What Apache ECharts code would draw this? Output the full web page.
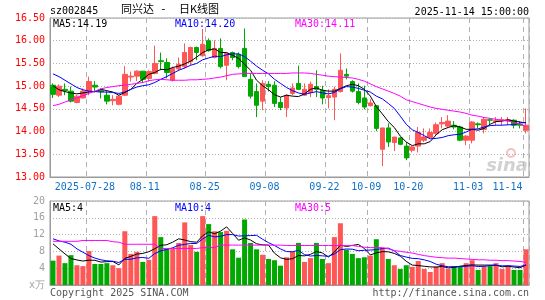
<!DOCTYPE html>
<html>
<head>
<meta charset="utf-8">
<script src="https://cdn.jsdelivr.net/npm/echarts@6/dist/echarts.min.js"></script>
<style>
html, body { margin: 0; padding: 0; background: #fff; }
#chart { width: 545px; height: 300px; }
</style>
</head>
<body>
<div id="chart"></div>
<script>
// trading days 2025-07-18 .. 2025-11-14
const dates = ['07-18','07-21','07-22','07-23','07-24','07-25','07-28','07-29','07-30','07-31',
  '08-01','08-04','08-05','08-06','08-07','08-08','08-11','08-12','08-13','08-14',
  '08-15','08-18','08-19','08-20','08-21','08-22','08-25','08-26','08-27','08-28',
  '08-29','09-01','09-02','09-03','09-04','09-05','09-08','09-09','09-10','09-11',
  '09-12','09-15','09-16','09-17','09-18','09-19','09-22','09-23','09-24','09-25',
  '09-26','09-29','09-30','10-09','10-10','10-13','10-14','10-15','10-16','10-17',
  '10-20','10-21','10-22','10-23','10-24','10-27','10-28','10-29','10-30','10-31',
  '11-03','11-04','11-05','11-06','11-07','11-10','11-11','11-12','11-13','11-14'];
const tickLabels = ['2025-07-28','08-11','08-25','09-08','09-22','10-09','10-20','11-03','11-14'];

const openP = [15.02,14.80,14.93,14.89,14.64,14.74,14.89,15.02,14.90,14.80,
  14.68,14.60,14.80,15.20,15.22,15.33,15.17,15.28,15.56,15.52,
  15.13,15.38,15.43,15.54,15.85,15.67,16.00,15.63,15.83,15.46,
  15.74,15.70,15.83,15.15,14.88,14.67,15.04,15.02,14.64,14.52,
  14.84,15.06,14.80,14.86,14.99,14.91,14.75,14.76,14.88,15.26,
  15.10,14.88,14.74,14.57,14.57,13.61,14.08,13.76,13.86,13.68,
  13.59,13.68,13.81,13.87,13.96,14.17,14.12,14.14,14.10,13.81,
  13.81,14.17,14.05,14.26,14.22,14.24,14.24,14.25,14.16,14.03];
const closeP = [14.82,15.00,14.90,14.67,14.78,14.89,15.10,14.98,14.88,14.67,
  14.71,14.78,15.26,15.22,15.33,15.15,15.32,15.50,15.54,15.30,
  15.39,15.48,15.74,15.85,15.74,15.92,15.78,15.83,15.43,15.72,
  15.63,15.43,15.21,14.78,14.58,15.06,14.99,14.62,14.53,14.80,
  14.96,14.93,14.93,15.04,14.93,14.74,14.79,14.93,15.35,15.22,
  14.89,14.64,14.54,14.63,14.07,14.08,13.77,13.88,13.72,13.42,
  13.66,13.98,13.88,13.98,14.15,14.20,14.23,14.10,13.81,13.90,
  14.21,14.15,14.27,14.25,14.24,14.26,14.26,14.14,14.14,14.14];
const lowP = [14.74,14.76,14.80,14.64,14.62,14.73,14.80,14.86,14.73,14.60,
  14.58,14.58,14.78,15.10,15.11,15.07,15.10,15.26,15.35,15.17,
  15.10,15.33,15.39,15.46,15.57,15.65,15.76,15.61,15.39,15.13,
  15.57,15.39,15.21,14.73,14.32,14.47,14.88,14.54,14.47,14.32,
  14.80,14.91,14.79,14.76,14.76,14.60,14.51,14.25,14.86,15.15,
  14.86,14.60,14.49,14.55,14.01,13.24,13.66,13.57,13.70,13.37,
  13.54,13.54,13.77,13.85,13.93,14.07,14.10,14.05,13.79,13.70,
  13.74,14.07,13.96,14.15,14.14,14.14,14.14,14.07,14.07,13.96];
const highP = [15.06,15.04,15.06,14.99,14.80,14.95,15.21,15.11,14.95,14.89,
  14.80,14.80,15.44,15.32,15.35,15.33,15.35,15.89,15.74,15.61,
  15.43,15.63,15.94,15.87,15.87,16.26,16.05,16.01,16.05,15.74,
  15.76,15.74,16.27,15.28,15.06,15.13,15.11,15.11,14.76,14.82,
  15.06,15.45,15.06,15.10,15.35,15.01,14.93,14.99,15.72,15.39,
  15.13,15.06,15.01,14.71,14.57,14.08,14.18,13.88,13.88,13.77,
  13.68,14.10,14.07,14.07,14.20,14.32,14.36,14.23,14.13,13.92,
  14.23,14.20,14.32,14.30,14.32,14.32,14.32,14.27,14.23,14.51];

const ma5 = [15.01,14.92,14.88,14.85,14.83,14.85,14.87,14.88,14.93,14.90,
  14.87,14.80,14.86,14.93,15.06,15.15,15.26,15.30,15.37,15.36,
  15.41,15.44,15.49,15.55,15.64,15.74,15.80,15.82,15.74,15.74,
  15.68,15.61,15.48,15.35,15.13,15.01,14.92,14.81,14.76,14.80,
  14.78,14.77,14.83,14.93,14.96,14.91,14.89,14.89,14.95,15.01,
  15.04,15.01,14.93,14.78,14.55,14.39,14.22,14.09,13.90,13.77,
  13.69,13.73,13.73,13.78,13.93,14.04,14.09,14.13,14.10,14.05,
  14.05,14.03,14.07,14.16,14.22,14.23,14.26,14.23,14.21,14.19];
const ma10 = [15.27,15.21,15.13,15.05,14.97,14.92,14.89,14.88,14.87,14.87,
  14.86,14.84,14.87,14.93,14.98,15.01,15.03,15.08,15.15,15.21,
  15.28,15.35,15.40,15.46,15.50,15.58,15.62,15.66,15.65,15.69,
  15.71,15.71,15.65,15.55,15.44,15.35,15.27,15.15,15.06,14.97,
  14.90,14.85,14.82,14.85,14.88,14.85,14.83,14.86,14.94,14.99,
  14.98,14.95,14.91,14.87,14.78,14.72,14.62,14.51,14.34,14.16,
  14.04,13.98,13.91,13.84,13.85,13.87,13.91,13.93,13.94,13.99,
  14.05,14.06,14.10,14.13,14.14,14.14,14.15,14.15,14.19,14.20];
const ma30 = [14.57,14.60,14.65,14.70,14.74,14.79,14.84,14.89,14.94,14.97,
  14.99,15.01,15.02,15.04,15.06,15.08,15.12,15.14,15.15,15.14,
  15.13,15.13,15.13,15.14,15.14,15.15,15.16,15.18,15.20,15.23,
  15.26,15.27,15.28,15.28,15.28,15.28,15.28,15.28,15.28,15.28,
  15.29,15.29,15.29,15.28,15.26,15.24,15.22,15.21,15.20,15.19,
  15.18,15.15,15.11,15.05,14.99,14.94,14.89,14.84,14.78,14.70,
  14.66,14.62,14.58,14.54,14.51,14.49,14.47,14.45,14.43,14.40,
  14.36,14.34,14.31,14.29,14.27,14.25,14.23,14.20,14.17,14.11];

// volume, x万
const vol = [5.8,7.0,5.2,7.1,4.7,4.5,8.1,5.0,5.0,5.2,
  4.7,4.0,12.8,7.4,7.9,5.5,6.0,16.4,11.4,8.6,
  8.6,10.0,14.9,9.5,7.9,16.4,14.5,12.8,12.6,12.9,
  8.5,6.5,15.6,10.0,8.5,7.2,6.2,5.9,4.6,6.6,
  8.0,10.0,5.5,6.4,10.0,6.2,5.2,11.4,14.7,8.4,
  7.4,6.4,6.6,7.0,10.9,8.8,6.2,4.7,3.8,4.7,
  4.3,5.7,3.8,3.1,4.4,5.2,3.8,4.5,4.5,5.2,
  5.9,3.6,4.5,4.5,5.2,3.8,4.3,3.6,3.6,8.5];
const volMa5 = [9.8,8.6,7.4,6.3,5.96,5.7,5.92,5.88,5.46,5.56,
  5.6,4.78,6.34,6.82,7.36,7.52,7.92,8.64,9.44,9.58,
  10.2,11.0,10.7,10.32,10.18,11.74,12.64,12.22,12.84,13.84,
  12.26,10.66,11.22,10.7,9.82,9.56,9.5,7.56,6.48,6.1,
  6.26,7.02,6.94,7.3,7.98,7.62,6.66,7.84,9.5,9.18,
  9.42,9.66,8.7,7.16,7.66,7.94,7.9,7.52,6.88,5.64,
  4.74,4.64,4.46,4.32,4.26,4.44,4.06,4.2,4.48,4.64,
  4.78,4.74,4.74,4.74,4.74,4.32,4.46,4.28,4.1,4.76];
const volMa10 = [11.0,10.5,10.2,9.7,8.6,7.8,7.0,6.4,6.0,5.76,
  5.65,5.35,6.11,6.14,6.46,6.56,6.35,7.49,8.13,8.47,
  8.86,9.46,9.67,9.88,9.88,10.97,11.82,11.46,11.58,12.01,
  12.0,11.65,11.72,11.77,11.83,10.91,10.08,9.39,8.59,7.96,
  7.91,8.26,7.25,6.89,7.04,6.94,6.84,7.39,8.4,8.58,
  8.52,8.16,8.27,8.33,8.42,8.68,8.78,8.11,7.02,6.65,
  6.34,6.27,5.99,5.6,4.95,4.59,4.35,4.33,4.4,4.45,
  4.61,4.4,4.47,4.61,4.69,4.55,4.6,4.51,4.42,4.75];
const volMa30 = [10.4,10.4,10.4,10.4,10.4,10.6,10.6,10.6,10.6,10.6,
  10.3,10.2,9.7,9.7,9.7,9.7,9.7,9.7,8.7,8.7,
  8.7,8.7,8.7,8.7,8.7,8.9,8.9,8.9,9.5,9.5,
  9.5,9.5,9.5,9.5,9.5,9.5,9.5,9.5,9.5,9.4,
  9.4,9.4,9.4,9.4,9.4,9.4,9.4,9.4,9.4,9.4,
  9.4,9.2,9.0,8.9,8.9,8.9,8.6,8.2,8.0,7.8,
  7.6,7.3,7.0,6.8,6.6,6.5,6.4,6.4,6.3,6.2,
  6.1,6.0,6.0,5.9,5.9,5.8,5.8,5.7,5.6,5.4];

const UP = '#ff5656';
const DOWN = '#00a800';
const MONO = '"DejaVu Sans Mono", "Liberation Mono", monospace';
const CJK = '"Noto Sans CJK SC", sans-serif';

const tickIdx = tickLabels.map(t => dates.findIndex(d => t.endsWith(d)));
const isTick = i => tickIdx.indexOf(i) >= 0;

const kData = dates.map((d, i) => [openP[i], closeP[i], lowP[i], highP[i]]);
const volData = vol.map((v, i) => ({
    value: v,
    itemStyle: { color: closeP[i] >= openP[i] ? UP : DOWN }
}));

const dashed = { show: true, interval: (i) => isTick(i), lineStyle: { color: '#b0b0b0', type: [5, 4], width: 1 } };
const dotted = { show: true, lineStyle: { color: '#b0b0b0', type: [1, 2], width: 1 } };

function line(name, data, color, xi) {
    return {
        name: name, type: 'line', data: data, xAxisIndex: xi, yAxisIndex: xi,
        showSymbol: false, symbol: 'none', smooth: false,
        lineStyle: { color: color, width: 1 }, z: 3
    };
}

function txt(x, y, s, color, align, size, font) {
    return {
        type: 'text', x: x, y: y, z: 10,
        style: {
            text: s, fill: color, align: align || 'left', verticalAlign: 'middle',
            fontSize: size || 10, fontFamily: font || MONO
        }
    };
}

const chart = echarts.init(document.getElementById('chart'));
chart.setOption({
    animation: false,
    backgroundColor: '#fff',
    grid: [
        { left: 50, top: 18, width: 479, height: 159, show: true, borderColor: '#9a9a9a', borderWidth: 1 },
        { left: 50, top: 201, width: 479, height: 84, show: true, borderColor: '#9a9a9a', borderWidth: 1 }
    ],
    xAxis: [
        {
            type: 'category', gridIndex: 0, data: dates, boundaryGap: true,
            axisLine: { lineStyle: { color: '#9a9a9a' } },
            axisTick: { show: false },
            axisLabel: {
                interval: (i) => isTick(i), hideOverlap: false,
                formatter: (v, i) => {
                    const k = tickIdx.indexOf(i);
                    return k === tickLabels.length - 1 ? '{last|' + tickLabels[k] + '}' : '{n|' + tickLabels[k] + '}';
                },
                rich: {
                    n: { color: '#1170c8', fontSize: 10, fontFamily: MONO, padding: [0, 8, 0, 0] },
                    last: { color: '#1170c8', fontSize: 10, fontFamily: MONO, padding: [0, 37, 0, 0] }
                },
                margin: 5
            },
            splitLine: dashed
        },
        {
            type: 'category', gridIndex: 1, data: dates, boundaryGap: true,
            axisLine: { lineStyle: { color: '#9a9a9a' } },
            axisTick: { show: false },
            axisLabel: { show: false },
            splitLine: dashed
        }
    ],
    yAxis: [
        {
            type: 'value', gridIndex: 0, min: 13, max: 16.5, interval: 0.5, scale: true,
            axisLine: { show: true, lineStyle: { color: '#9a9a9a' } },
            axisTick: { show: false },
            axisLabel: { color: '#ff0000', fontSize: 10, fontFamily: MONO, margin: 5, formatter: v => v.toFixed(2) },
            splitLine: dotted
        },
        {
            type: 'value', gridIndex: 1, min: 0, max: 20, interval: 4,
            axisLine: { show: true, lineStyle: { color: '#9a9a9a' } },
            axisTick: { show: false },
            axisLabel: { color: '#a0a0a0', fontSize: 10, fontFamily: MONO, margin: 5, formatter: v => v === 0 ? 'x万' : String(v) },
            splitLine: dotted
        }
    ],
    series: [
        {
            name: 'K', type: 'candlestick', data: kData, xAxisIndex: 0, yAxisIndex: 0,
            barWidth: 5,
            itemStyle: { color: UP, color0: DOWN, borderColor: UP, borderColor0: DOWN, borderWidth: 1 },
            z: 2
        },
        line('MA5', ma5, '#000000', 0),
        line('MA10', ma10, '#0000ff', 0),
        line('MA30', ma30, '#ff00ff', 0),
        { name: 'VOL', type: 'bar', data: volData, xAxisIndex: 1, yAxisIndex: 1, barWidth: 5, z: 2 },
        line('VMA5', volMa5, '#000000', 1),
        line('VMA10', volMa10, '#0000ff', 1),
        line('VMA30', volMa30, '#ff00ff', 1)
    ],
    graphic: [
        txt(50, 11, 'sz002845', '#000'),
        txt(121, 9, '同兴达', '#000', 'left', 11, CJK),
        txt(160, 9, '-', '#000', 'left', 11, MONO),
        txt(179, 9, '日K线图', '#000', 'left', 11, CJK),
        txt(529, 12, '2025-11-14 15:00:00', '#000', 'right'),
        txt(53, 24, 'MA5:14.19', '#000'),
        txt(175, 24, 'MA10:14.20', '#0000ff'),
        txt(295, 24, 'MA30:14.11', '#ff00ff'),
        txt(53, 208, 'MA5:4', '#000'),
        txt(175, 208, 'MA10:4', '#0000ff'),
        txt(295, 208, 'MA30:5', '#ff00ff'),
        txt(50, 293, 'Copyright 2025 SINA.COM', '#555'),
        txt(529, 293, 'http://finance.sina.com.cn', '#555', 'right'),
        {
            type: 'text', x: 528, y: 166, z: 1,
            style: { text: 'sina', fill: 'rgba(190,190,190,0.7)', align: 'right', verticalAlign: 'middle',
                fontSize: 18, fontWeight: 'bold', fontStyle: 'italic', fontFamily: 'DejaVu Sans' }
        },
        {
            type: 'circle', shape: { cx: 511, cy: 153, r: 4 }, z: 1,
            style: { fill: 'none', stroke: 'rgba(240,150,150,0.6)', lineWidth: 2 }
        }
    ]
});
</script>
</body>
</html>
